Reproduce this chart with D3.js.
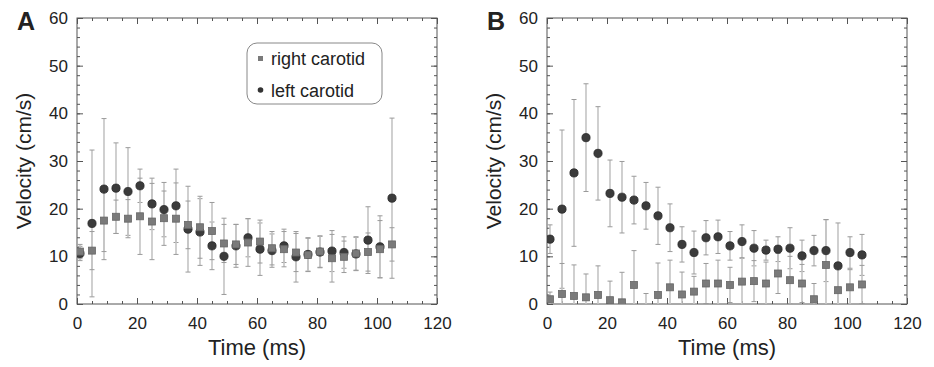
<!DOCTYPE html>
<html>
<head>
<meta charset="utf-8">
<script src="https://cdn.jsdelivr.net/npm/d3@7"></script>
<style>
  body { margin: 0; background: #fff; }
  text { font-family: "Liberation Sans", Arial, Helvetica, sans-serif; fill: #222; }
</style>
</head>
<body>
<script>
'use strict';

// sample times (ms), same for both panels
const time = [1, 5, 9, 13, 17, 21, 25, 29, 33, 37, 41, 45, 49, 53, 57, 61, 65, 69, 73, 77, 81, 85, 89, 93, 97, 101, 105];

// panel A
const leftA = [10.6, 16.9, 24.1, 24.3, 23.6, 24.8, 21.0, 19.8, 20.6, 15.7, 15.1, 12.2, 10.0, 12.2, 13.9, 11.5, 11.2, 12.2, 9.9, 10.4, 10.9, 11.1, 10.8, 10.5, 13.4, 12.0, 22.2];
const leftErrA = [1.5, 15.4, 14.8, 9.5, 9.2, 3.5, 5.4, 5.7, 7.7, 9.0, 7.0, 5.0, 8.0, 4.5, 4.0, 5.5, 3.5, 3.5, 5.3, 3.5, 3.3, 4.3, 3.3, 3.5, 7.0, 6.5, 16.8];
const rightA = [11.0, 11.2, 17.5, 18.3, 17.9, 18.4, 17.3, 18.0, 17.9, 16.6, 16.1, 15.3, 12.7, 12.5, 12.9, 13.1, 11.7, 11.5, 10.8, 10.3, 11.0, 9.6, 9.9, 10.6, 10.9, 11.5, 12.5];
const rightErrA = [1.5, 4.0, 6.5, 3.5, 4.0, 8.0, 8.0, 5.7, 7.5, 5.0, 6.5, 6.0, 4.0, 4.2, 5.0, 4.5, 3.5, 3.7, 4.0, 3.5, 3.3, 5.0, 3.3, 3.5, 4.0, 6.0, 3.5];

// panel B
const leftB = [13.6, 19.9, 27.5, 34.9, 31.6, 23.2, 22.4, 21.8, 20.6, 18.5, 16.0, 12.5, 10.8, 13.9, 14.1, 12.2, 13.1, 11.7, 11.3, 11.5, 11.7, 10.1, 11.2, 11.2, 8.0, 10.8, 10.3];
const leftErrB = [3.0, 16.6, 15.4, 11.3, 9.8, 7.0, 7.5, 5.0, 4.9, 6.0, 5.0, 3.7, 4.5, 3.6, 3.5, 3.0, 3.5, 3.7, 2.1, 2.6, 4.3, 3.3, 3.2, 6.5, 9.0, 3.3, 4.3];
const rightB = [1.0, 2.1, 1.7, 1.4, 1.9, 0.8, 0.35, 4.0, -1.5, 1.9, 3.5, 2.0, 2.6, 4.3, 4.3, 4.0, 4.7, 4.8, 4.3, 6.4, 5.0, 4.3, 1.0, 8.2, 2.9, 3.5, 4.1];
const rightErrB = [1.5, 6.4, 6.5, 4.9, 6.1, 4.0, 6.3, 7.2, 3.7, 6.7, 5.7, 4.7, 3.2, 4.2, 4.9, 3.7, 5.0, 4.3, 4.5, 4.2, 5.0, 4.0, 3.3, 9.5, 5.5, 3.7, 4.0];

const xTicks = [0, 20, 40, 60, 80, 100, 120];
const yTicks = [0, 10, 20, 30, 40, 50, 60];
const legendLabels = ["right carotid", "left carotid"];

const W = 934, H = 367;
const plotTop = 18, plotBottom = 304;

let svg = d3.select("body").append("svg")
    .attr("width", W)
    .attr("height", H);

function drawPanel(letter, x0, x1, left, leftErr, right, rightErr, withLegend) {
    let g = svg.append("g");

    let x = d3.scaleLinear().domain([0, 120]).range([x0, x1]);
    let y = d3.scaleLinear().domain([0, 60]).range([plotBottom, plotTop]);

    let clipId = "clip" + letter;
    g.append("clipPath").attr("id", clipId)
      .append("rect")
        .attr("x", x0).attr("y", plotTop)
        .attr("width", x1 - x0).attr("height", plotBottom - plotTop);

    //axes, ticks pointing inward on all four sides
    function ticks(axis, tr, vals, size, labels, pad) {
        let a = g.append("g")
            .attr("transform", tr)
            .call(axis.tickValues(vals).tickSize(size).tickPadding(pad || 3)
                .tickFormat(labels ? d3.format("d") : ""));
        a.select(".domain").remove();
        a.selectAll("line").attr("stroke", "#555");
        a.selectAll("text").style("font-size", "17px").attr("fill", "#222");
        return a;
    }
    let minorX = d3.range(0, 121, 5), minorY = d3.range(0, 61, 2);
    ticks(d3.axisBottom(x), `translate(0,${plotBottom})`, minorX, -3, false);
    ticks(d3.axisBottom(x), `translate(0,${plotBottom})`, xTicks, -6, true, 13);
    ticks(d3.axisTop(x), `translate(0,${plotTop})`, minorX, -3, false);
    ticks(d3.axisTop(x), `translate(0,${plotTop})`, xTicks, -6, false);
    ticks(d3.axisLeft(y), `translate(${x0},0)`, minorY, -3, false);
    ticks(d3.axisLeft(y), `translate(${x0},0)`, yTicks, -6, true, 9);
    ticks(d3.axisRight(y), `translate(${x1},0)`, minorY, -3, false);
    ticks(d3.axisRight(y), `translate(${x1},0)`, yTicks, -6, false);

    g.append("rect")
        .attr("x", x0).attr("y", plotTop)
        .attr("width", x1 - x0).attr("height", plotBottom - plotTop)
        .attr("fill", "none")
        .attr("stroke", "#555");

    let plot = g.append("g").attr("clip-path", `url(#${clipId})`);

    // error bars
    let series = [
        { v: left, e: leftErr },
        { v: right, e: rightErr }
    ];
    series.forEach(function(s) {
        let eb = plot.append("g").selectAll("g")
            .data(time.map(function(t, i) { return { t: t, v: s.v[i], e: s.e[i] }; }))
            .enter().append("g");
        eb.append("line")
            .attr("x1", function(d) { return x(d.t); })
            .attr("x2", function(d) { return x(d.t); })
            .attr("y1", function(d) { return y(d.v - d.e); })
            .attr("y2", function(d) { return y(d.v + d.e); })
            .attr("stroke", "#c4c4c4")
            .attr("stroke-width", 1.6);
        [-1, 1].forEach(function(sg) {
            eb.append("line")
                .attr("x1", function(d) { return x(d.t) - 2.5; })
                .attr("x2", function(d) { return x(d.t) + 2.5; })
                .attr("y1", function(d) { return y(d.v + sg * d.e); })
                .attr("y2", function(d) { return y(d.v + sg * d.e); })
                .attr("stroke", "#9a9a9a")
                .attr("stroke-width", 1);
        });
    });

    // left carotid: dark circles
    plot.append("g").selectAll("circle")
        .data(time.map(function(t, i) { return { t: t, v: left[i] }; }))
        .enter().append("circle")
          .attr("cx", function(d) { return x(d.t); })
          .attr("cy", function(d) { return y(d.v); })
          .attr("r", 4.1)
          .attr("fill", "#3b3b3b")
          .attr("stroke", "#2a2a2a")
          .attr("stroke-width", 0.8);

    // right carotid: grey squares
    plot.append("g").selectAll("rect")
        .data(time.map(function(t, i) { return { t: t, v: right[i] }; }))
        .enter().append("rect")
          .attr("x", function(d) { return x(d.t) - 3.5; })
          .attr("y", function(d) { return y(d.v) - 3.5; })
          .attr("width", 7)
          .attr("height", 7)
          .attr("fill", "#7a7a7a")
          .attr("stroke", "#666")
          .attr("stroke-width", 0.8);

    // titles
    g.append("text")
        .attr("x", (x0 + x1) / 2)
        .attr("y", 355)
        .attr("text-anchor", "middle")
        .style("font-size", "22px")
        .text("Time (ms)");

    g.append("text")
        .attr("transform", `translate(${x0 - 46},${(plotTop + plotBottom) / 2}) rotate(-90)`)
        .attr("text-anchor", "middle")
        .style("font-size", "21px")
        .text("Velocity (cm/s)");

    g.append("text")
        .attr("x", x0 - 60)
        .attr("y", 30)
        .style("font-size", "25px")
        .style("font-weight", "bold")
        .text(letter);

    if (withLegend) {
        let lg = g.append("g");
        lg.append("rect")
            .attr("x", 247).attr("y", 43)
            .attr("width", 135).attr("height", 61)
            .attr("rx", 10)
            .attr("fill", "#fff")
            .attr("stroke", "#888");
        lg.append("rect")
            .attr("x", 258).attr("y", 56)
            .attr("width", 5).attr("height", 5)
            .attr("fill", "#7a7a7a");
        lg.append("circle")
            .attr("cx", 260.5).attr("cy", 90)
            .attr("r", 2.8)
            .attr("fill", "#333");
        lg.selectAll("text")
            .data(legendLabels)
            .enter().append("text")
              .attr("x", 271)
              .attr("y", function(d, i) { return 65 + i * 32; })
              .style("font-size", "18px")
              .text(function(d) { return d; });
    }
}

drawPanel("A", 77, 437, leftA, leftErrA, rightA, rightErrA, true);
drawPanel("B", 547, 907, leftB, leftErrB, rightB, rightErrB, false);
</script>
</body>
</html>
